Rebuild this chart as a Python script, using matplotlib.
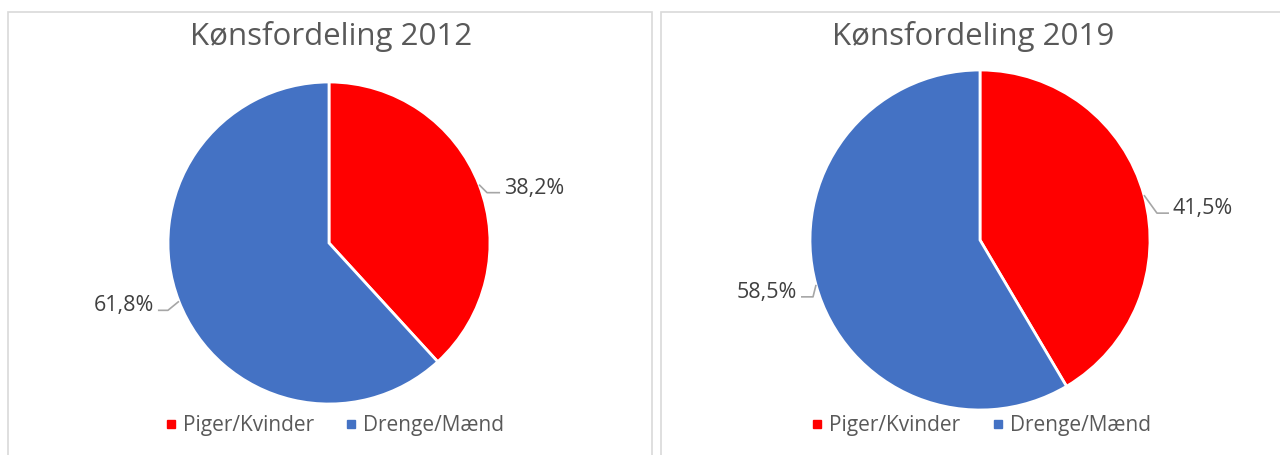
import matplotlib.pyplot as plt
import numpy as np
from matplotlib.patches import Rectangle

plt.rcParams['font.family'] = ['Open Sans', 'DejaVu Sans']

# data
categories = ["Piger/Kvinder", "Drenge/Mænd"]
titles = ["Kønsfordeling 2012", "Kønsfordeling 2019"]
shares_2012 = [38.2, 61.8]
shares_2019 = [41.5, 58.5]
colors = ["#ff0000", "#4472c4"]

W, H = 1280, 455
fig = plt.figure(figsize=(W / 100, H / 100), dpi=100)
ax = fig.add_axes([0, 0, 1, 1])

def py(y):
    # pixel row (top down) -> data y
    return H - y

# panel layout: (left, right, center x, center y, radius, title center x)
panels = [
    dict(x0=8, x1=652, cx=329, cy=243, r=161, tx=331),
    dict(x0=661, x1=1286, cx=980, cy=240, r=170, tx=973),
]
# leader lines: offsets (elbow, end) from edge point, text offset from end
leaders = [
    [((8, 8), (21, 8)), ((-11, 9), (-21, 9))],
    [((13, 18), (25, 18)), ((-3, 12), (-15, 12))],
]

for p, vals, title, lead in zip(panels, [shares_2012, shares_2019], titles, leaders):
    ax.add_patch(Rectangle((p["x0"], py(470)), p["x1"] - p["x0"], 470 - 12,
                           fill=False, ec="#d9d9d9", lw=1.2))
    ax.text(p["tx"], py(45), title, ha="center", va="baseline",
            fontsize=22.5, color="#595959")
    wedges, _ = ax.pie(vals, colors=colors, startangle=90, counterclock=False,
                       center=(p["cx"], py(p["cy"])), radius=p["r"], frame=True,
                       wedgeprops=dict(edgecolor="white", linewidth=2))
    cum = np.cumsum([0] + vals)
    for i, v in enumerate(vals):
        mid = np.deg2rad(90 - 3.6 * (cum[i] + v / 2))
        ex = p["cx"] + p["r"] * np.cos(mid)
        ey = p["cy"] - p["r"] * np.sin(mid)
        (bx, by), (dx, dy) = lead[i]
        xs = [ex, ex + bx, ex + dx]
        ys = [py(ey), py(ey + by), py(ey + dy)]
        ax.plot(xs, ys, color="#a6a6a6", lw=1.2, solid_capstyle="butt")
        right = dx > 0
        ax.text(ex + dx + (4 if right else -4), py(ey + dy + 1), f"{v:.1f}%".replace(".", ","),
                ha="left" if right else "right", va="baseline",
                fontsize=15.5, color="#404040")

# legends
legend_pos = [(167, 347), (813, 994)]
for xs in legend_pos:
    for x, c, lab in zip(xs, colors, categories):
        ax.add_patch(Rectangle((x, py(428)), 8, 8, color=c))
        ax.text(x + 16, py(431), lab, ha="left", va="baseline",
                fontsize=15, color="#595959")

ax.set_xlim(0, W)
ax.set_ylim(0, H)
ax.set_aspect("equal")
ax.axis("off")
fig.savefig("out.png", dpi=100)
